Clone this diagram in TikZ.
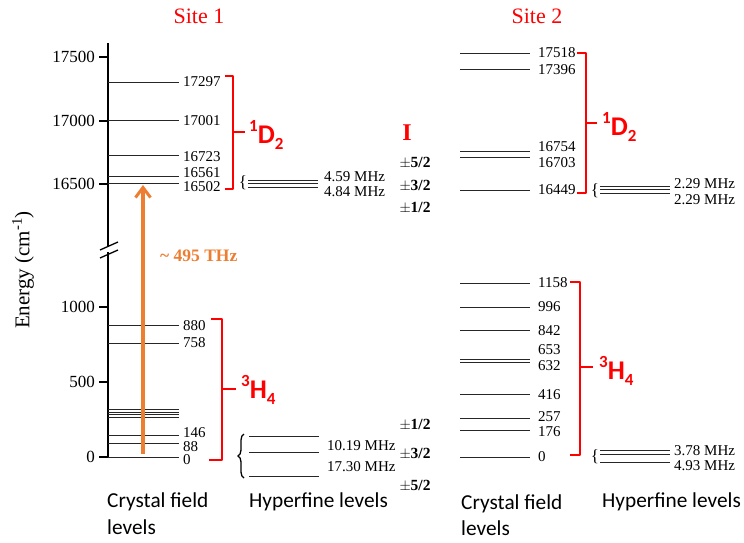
\documentclass[tikz,border=0pt]{standalone}
\usepackage{fontspec}
\setmainfont{Liberation Serif}
\newfontfamily\calfont{Carlito}
\usetikzlibrary{arrows.meta,decorations.pathreplacing}
\definecolor{myorange}{RGB}{237,125,49}
\newcommand\fs[1]{\fontsize{#1}{#1}\selectfont}
\newcommand\termlab[3]{\calfont\bfseries\raisebox{0.42em}{\fs{17}#1}#2\raisebox{-0.22em}{\fs{17}#3}}
\tikzset{
  lvl/.style={line width=0.7pt, black!85},
  axisline/.style={line width=1.8pt, black},
  rb/.style={red, line width=2.4pt, line join=round},
  lab/.style={anchor=west, inner sep=0pt, font=\fs{15}},
  ticklab/.style={anchor=east, inner sep=0pt, font=\fs{17}},
  term/.style={anchor=west, inner sep=0pt, red, font=\fs{27}},
  spin/.style={inner sep=0pt, font=\fs{15.5}\bfseries},
  bottomlab/.style={anchor=west, inner sep=0pt, font=\calfont\fs{21.3}},
  sitelab/.style={inner sep=0pt, red, font=\fs{22}},
  smallbrace/.style={inner sep=0pt, font=\fs{17}},
}
\begin{document}
\begin{tikzpicture}[x=1pt,y=-1pt]
\useasboundingbox (0,0) rectangle (744,542);

% titles
\node[sitelab] (site1) at (199,16) {Site 1};
\node[sitelab] (site2) at (537,16) {Site 2};

% energy axis
\node[rotate=90, inner sep=0pt, font=\fs{21}] (elab) at (23,270) {Energy (cm\textsuperscript{-1})};
\draw[axisline] (108,43) -- (108,246);
\draw[axisline] (108,252) -- (108,458);
\draw[line width=1.3pt] (100,250) -- (118,242);
\draw[line width=1.3pt] (100,258) -- (118,250);
\foreach \yy/\tx [count=\i] in {57/17500,121/17000,184/16500,307/1000,382/500,457/0}{
  \draw[line width=1.8pt] (99,\yy) -- (108,\yy);
  \node[ticklab] (tick\i) at (95,\yy) {\tx};
}

% site 1 crystal field levels
\foreach \yy in {82.8,120.4,155.7,176.3,183.7,325,343.3,409.5,412,414.5,417.5,435,443.8,457}
  \draw[lvl] (108,\yy) -- (179,\yy);
\foreach \yy/\tx [count=\i] in {82/17297,121/17001,157/16723,173/16561,187/16502,326/880,343/758,433/146,446.5/88,460/0}
  \node[lab] (sa\i) at (183,\yy) {\tx};

% site 2 crystal field levels
\foreach \yy in {53,69,151,157,190,283,307.6,330.7,359,362.2,394.6,418.5,430.6,457}
  \draw[lvl] (460,\yy) -- (530,\yy);
\foreach \yy/\tx [count=\i] in {53/17518,70/17396,147/16754,163/16703,190/16449,283/1158,307/996,331/842,350/653,366/632,395/416,417/257,432/176,457/0}
  \node[lab] (sb\i) at (538,\yy) {\tx};

% red term brackets
\draw[rb] (225,76) -- (233,76) -- (233,189) -- (225,189);
\draw[rb] (233,132) -- (245,132);
\node[term] (d1) at (249,135) {\termlab{1}{D}{2}};
\draw[rb] (211,319) -- (222,319) -- (222,460) -- (209,460);
\draw[rb] (222,389) -- (236,389);
\node[term] (h1) at (241,390) {\termlab{3}{H}{4}};
\draw[rb] (577,53) -- (586,53) -- (586,193) -- (577,193);
\draw[rb] (586,123) -- (597,123);
\node[term] (d2) at (602,127) {\termlab{1}{D}{2}};
\draw[rb] (570,282) -- (580,282) -- (580,455) -- (570,455);
\draw[rb] (580,367) -- (593,367);
\node[term] (h2) at (599,371) {\termlab{3}{H}{4}};

% orange transition arrow
\coordinate (arS) at (143,454);
\coordinate (arE) at (143,185);
\draw[myorange, line width=3.6pt, -{Straight Barb[length=10pt,width=15pt,line width=3pt]}] (arS) -- (arE);
\node[anchor=west, inner sep=0pt, myorange, font=\fs{17.5}\bfseries] (thz) at (160,256) {\textasciitilde\ 495 THz};

% hyperfine site 1 upper
\node[smallbrace] (hb1) at (243,183) {\{};
\foreach \yy in {180,183.5,187} \draw[lvl] (248,\yy) -- (318,\yy);
\node[lab] (m1) at (324,176.5) {4.59 MHz};
\node[lab] (m2) at (324,191.5) {4.84 MHz};

% hyperfine site 1 lower
\coordinate (bbT) at (244,434);
\coordinate (bbB) at (244,478);
\draw[line width=1.3pt, decorate, decoration={brace, amplitude=6pt}] (bbB) -- (bbT);
\foreach \yy in {436,452,476} \draw[lvl] (249,\yy) -- (319,\yy);
\node[lab] (m3) at (327,446) {10.19 MHz};
\node[lab] (m4) at (327,467) {17.30 MHz};

% hyperfine site 2 upper
\node[smallbrace] (hb3) at (595,191) {\{};
\foreach \yy in {186,189.5,193} \draw[lvl] (600,\yy) -- (670,\yy);
\node[lab] (m5) at (674,184) {2.29 MHz};
\node[lab] (m6) at (674,200) {2.29 MHz};

% hyperfine site 2 lower
\node[smallbrace] (hb4) at (595,457) {\{};
\foreach \yy in {450,454,462} \draw[lvl] (600,\yy) -- (670,\yy);
\node[lab] (m7) at (674,451) {3.78 MHz};
\node[lab] (m8) at (674,466) {4.93 MHz};

% nuclear spin labels
\node[inner sep=0pt, red, font=\fs{24}\bfseries] (ilab) at (407,133) {I};
\node[spin] (s1) at (415,163) {$\pm$5/2};
\node[spin] (s2) at (415,186) {$\pm$3/2};
\node[spin] (s3) at (415,208) {$\pm$1/2};
\node[spin] (s4) at (415,425) {$\pm$1/2};
\node[spin] (s5) at (415,454) {$\pm$3/2};
\node[spin] (s6) at (415,486) {$\pm$5/2};

% bottom labels
\node[bottomlab] (cf1) at (107,502) {Crystal field};
\node[bottomlab] (cl1) at (107,527) {levels};
\node[bottomlab] (hf1) at (249,502) {Hyperfine levels};
\node[bottomlab] (cf2) at (461,504) {Crystal field};
\node[bottomlab] (cl2) at (461,528) {levels};
\node[bottomlab] (hf2) at (602,502) {Hyperfine levels};
\end{tikzpicture}
\end{document}
